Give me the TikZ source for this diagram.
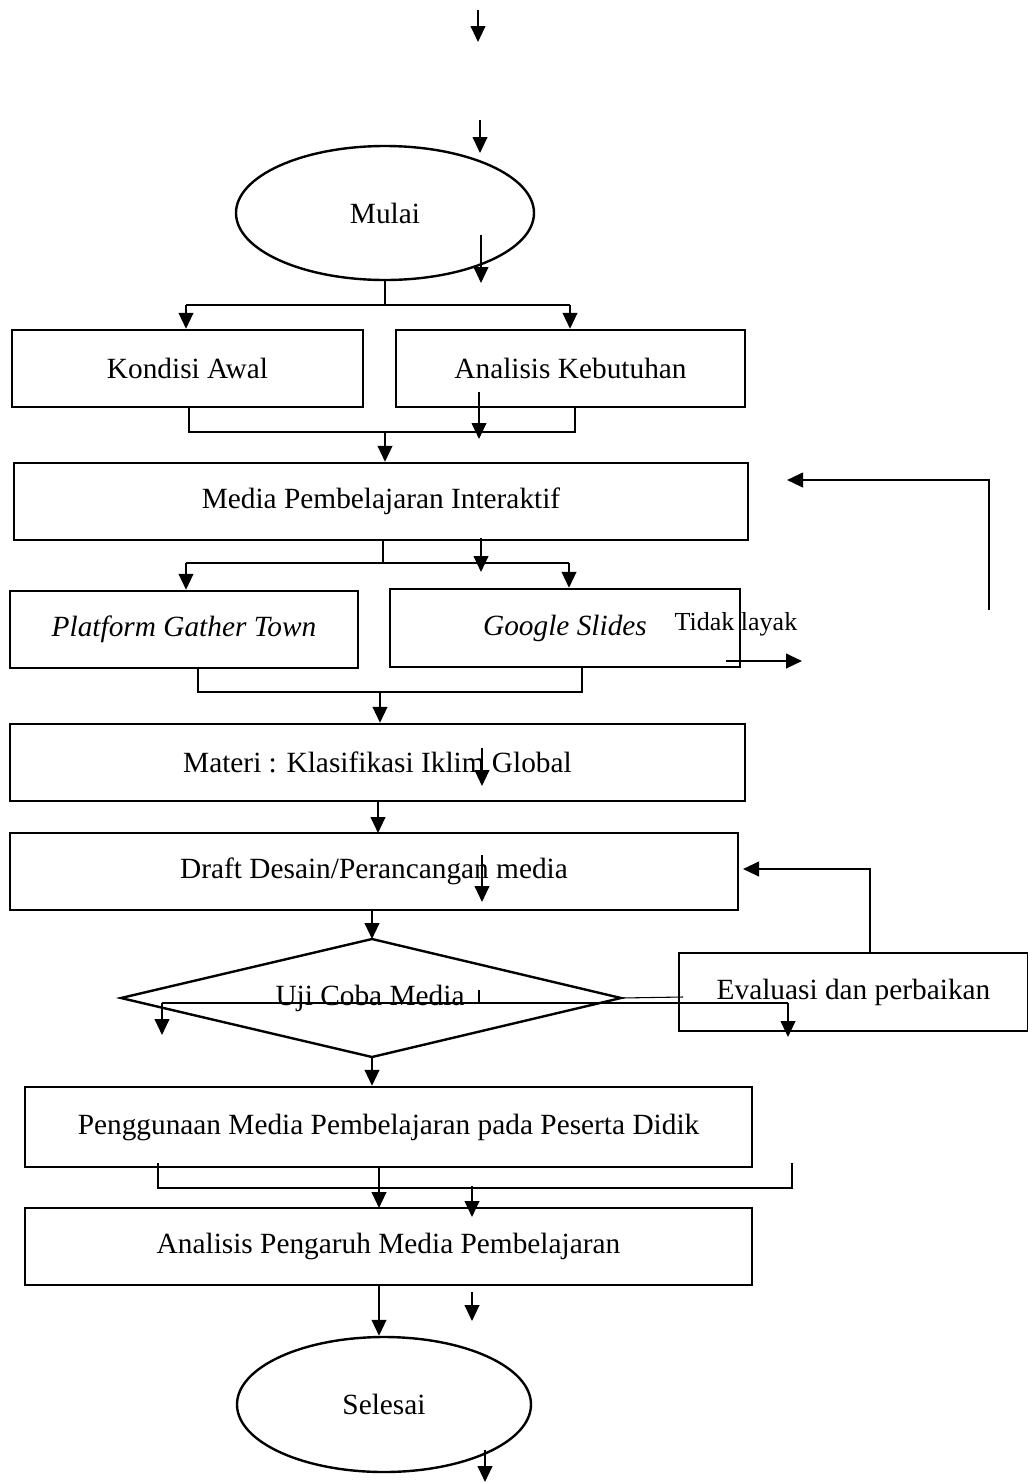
\documentclass[tikz,border=0pt]{standalone}
\usepackage{fontspec}
\setmainfont{Liberation Serif}
\usetikzlibrary{shapes.geometric,arrows.meta}
\begin{document}
\begin{tikzpicture}[x=0.75pt,y=-0.75pt,
  txt/.style={font=\fontsize{22}{26}\selectfont},
  bx/.style 2 args={draw,line width=1.8pt,inner sep=0pt,txt,minimum width=#1*0.75pt,minimum height=#2*0.75pt},
  ell/.style 2 args={draw,ellipse,line width=1.8pt,inner sep=0pt,txt,minimum width=#1*0.75pt,minimum height=#2*0.75pt},
  conn/.style={line width=1.5pt,-{Triangle[length=12pt,width=11pt]}},
  thinline/.style={line width=0.8pt},
  plainline/.style={line width=1.5pt}]
\useasboundingbox (0,0) rectangle (1028,1482);

% nodes
\node[ell={298}{134}] (mulai) at (385,213) {Mulai};
\node[bx={351}{77}] (kon) at (187.5,368.5) {Kondisi Awal};
\node[bx={349}{77}] (anb) at (570.5,368.5) {Analisis Kebutuhan};
\node[bx={734}{77}] (mpi) at (381,501.5) {Media Pembelajaran Interaktif};
\node[bx={348}{77}] (pgt) at (184,629.5) {\itshape Platform Gather Town};
\node[bx={350}{78}] (gs) at (565,628) {\itshape Google Slides};
\node[font=\fontsize{19.5}{22}\selectfont,inner sep=0pt] (tl) at (736,624) {Tidak layak};
\node[bx={735}{77}] (mat) at (377.5,762.5) {Materi : Klasifikasi Iklim Global};
\node[bx={728}{77}] (dd) at (374,871.5) {Draft Desain/Perancangan media};
\coordinate (ujiN) at (372,939);
\coordinate (ujiS) at (372,1057);
\coordinate (ujiW) at (121,998);
\coordinate (ujiE) at (621,998);
\draw[line width=1.8pt,line join=miter] (ujiN) -- (ujiE) -- (ujiS) -- (ujiW) -- cycle;
\node[txt,inner sep=0pt] (uji) at (370,998) {Uji Coba Media};
\node[bx={349}{78}] (eva) at (853.5,992) {Evaluasi dan perbaikan};
\node[bx={727}{80}] (pen) at (388.5,1127) {Penggunaan Media Pembelajaran pada Peserta Didik};
\node[bx={727}{77}] (apm) at (388.5,1246.5) {Analisis Pengaruh Media Pembelajaran};
\node[ell={294}{135}] (sel) at (384,1404.5) {Selesai};

% junction coordinates
\coordinate (j1) at (385,305);
\coordinate (j1l) at (186,305);
\coordinate (j1r) at (570,305);
\coordinate (j2) at (385,432);
\coordinate (j2l) at (189,432);
\coordinate (j2r) at (575,432);
\coordinate (j3) at (383,563);
\coordinate (j3l) at (186,563);
\coordinate (j3r) at (569,563);
\coordinate (j4) at (380,692);
\coordinate (j4l) at (198,692);
\coordinate (j4r) at (582,692);
\coordinate (e1) at (870,869);
\coordinate (d1) at (162,1003);
\coordinate (d2) at (788,1003);
\coordinate (d1e) at (162,1035);
\coordinate (d2e) at (788,1037);
\coordinate (b1) at (158,1163);
\coordinate (b1b) at (158,1189);
\coordinate (b2) at (792,1163);
\coordinate (b2b) at (792,1189);

% main connectors
\draw[thinline] (mulai.south) -- (j1);
\draw[thinline] (j1l) -- (j1r);
\draw[conn] (j1l) -- (j1l |- kon.north);
\draw[conn] (j1r) -- (j1r |- anb.north);
\draw[thinline] (j2l |- kon.south) -- (j2l) -- (j2r) -- (j2r |- anb.south);
\draw[conn] (j2) -- (j2 |- mpi.north);
\draw[thinline] (j3 |- mpi.south) -- (j3);
\draw[thinline] (j3l) -- (j3r);
\draw[conn] (j3l) -- (j3l |- pgt.north);
\draw[conn] (j3r) -- (j3r |- gs.north);
\draw[thinline] (j4l |- pgt.south) -- (j4l) -- (j4r) -- (j4r |- gs.south);
\draw[conn] (j4) -- (j4 |- mat.north);
\draw[conn] (378,801) -- (378,833);
\draw[conn] (ujiN |- dd.south) -- (ujiN);
\draw[conn] (ujiS) -- (ujiS |- pen.north);
\draw[conn] (379,1167) -- (379,1208);
\draw[conn] (379,1285) -- (sel.north -| 379,0);
\draw[thinline] (ujiE) -- (683,997);
\draw[conn] (e1 |- eva.north) -- (e1) -- (743,869);

% bracket under Penggunaan
\draw[thinline] (b1) -- (b1b);
\draw[thinline] (158,1188) -- (792,1188);
\draw[thinline] (b2) -- (b2b);

% lines across diamond
\draw[thinline] (d1) -- (d2);
\draw[conn] (d1) -- (d1e);
\draw[conn] (d2) -- (d2e);
\draw[thinline] (479,990) -- (479,1003);

% right loop (Tidak layak)
\coordinate (r1) at (989,610);
\coordinate (r2) at (989,480);
\coordinate (r3) at (787,480);
\draw[conn] (r1) -- (r2) -- (r3);
\coordinate (t1) at (726,661);
\coordinate (t2) at (802,661);
\draw[conn] (t1) -- (t2);

% stray arrows
\draw[conn] (478,10) -- (478,42);
\draw[conn] (480,120) -- (480,153);
\draw[conn] (481,235) -- (481,283);
\draw[conn] (479,392) -- (479,439);
\draw[conn] (481,538) -- (481,572);
\draw[conn] (482,748) -- (482,786);
\draw[conn] (482,855) -- (482,902);
\draw[conn] (472,1186) -- (472,1217);
\draw[conn] (472,1292) -- (472,1321);
\draw[conn] (485,1450) -- (485,1482);
\end{tikzpicture}
\end{document}
